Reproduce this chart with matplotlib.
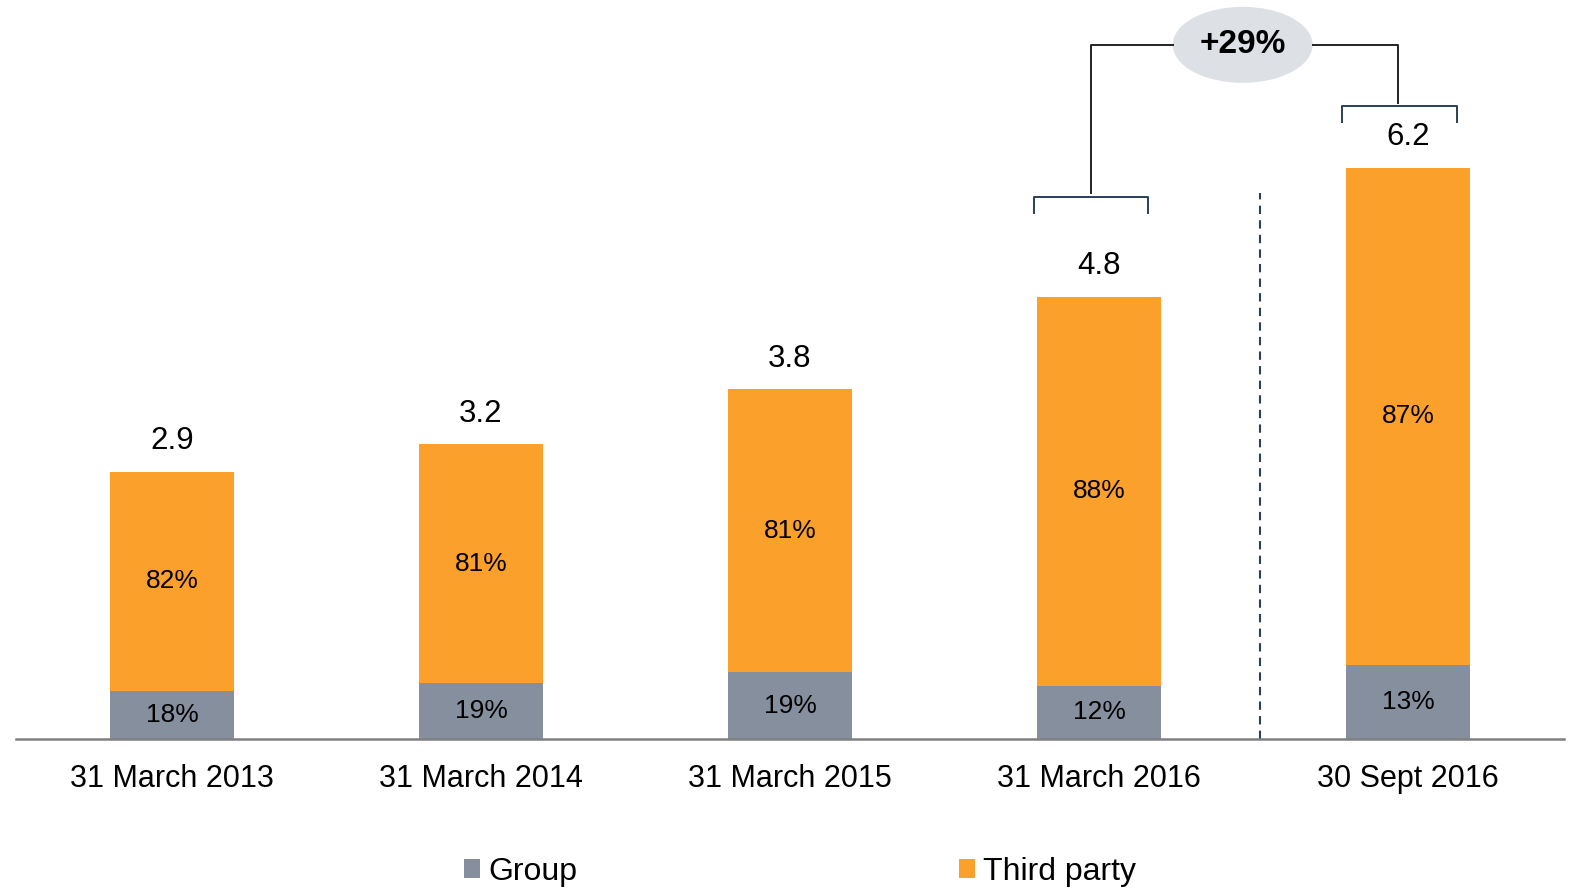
import numpy as np
import matplotlib
matplotlib.use('Agg')
import matplotlib.pyplot as plt
from matplotlib.patches import Ellipse, Patch

plt.rcParams['font.family'] = ['Liberation Sans', 'DejaVu Sans']

# values (totals, share of group / third party)
CATEGORIES = ['31 March 2013', '31 March 2014', '31 March 2015', '31 March 2016', '30 Sept 2016']
TOTALS = [2.9, 3.2, 3.8, 4.8, 6.2]
GROUP_PCT = [18, 19, 19, 12, 13]
THIRD_PCT = [82, 81, 81, 88, 87]
GROWTH_LABEL = '+29%'

GROUP_COLOR = '#868F9D'
THIRD_COLOR = '#FBA02B'
LINE_COLOR = '#2A3F5A'


def main():
    totals = np.array(TOTALS)
    group = totals * np.array(GROUP_PCT) / 100.0
    third = totals * np.array(THIRD_PCT) / 100.0
    x = np.arange(len(CATEGORIES))

    fig = plt.figure(figsize=(15.73, 8.88), dpi=100)
    ax = fig.add_axes([16 / 1573, 149 / 888, 1548 / 1573, 737 / 888])

    ax.bar(x, group, width=0.4, color=GROUP_COLOR, edgecolor='none')
    ax.bar(x, third, width=0.4, bottom=group, color=THIRD_COLOR, edgecolor='none')

    for i in range(len(x)):
        ax.text(x[i], group[i] / 2, '%d%%' % GROUP_PCT[i], ha='center', va='center', fontsize=19)
        ax.text(x[i], group[i] + third[i] / 2, '%d%%' % THIRD_PCT[i], ha='center', va='center', fontsize=19)
        ax.text(x[i], totals[i] + 0.33, '%.1f' % totals[i], ha='center', va='center', fontsize=22.5)

    ax.set_xlim(-0.505, 4.505)
    ax.set_ylim(0, 8.0)
    ax.set_xticks(x)
    ax.set_xticklabels(CATEGORIES, fontsize=22)
    ax.tick_params(axis='x', length=0, pad=18)
    ax.set_yticks([])
    for side in ['top', 'left', 'right']:
        ax.spines[side].set_visible(False)
    ax.spines['bottom'].set_color('#808080')
    ax.spines['bottom'].set_linewidth(1.8)

    # dashed separator before the half-year bar
    ax.plot([3.52, 3.52], [0, 5.93], color=LINE_COLOR, lw=1.5, ls=(0, (4, 3)))

    # brackets and growth bubble
    b_left = totals[3] + 1.08
    ax.plot([2.79, 2.79, 3.16, 3.16], [b_left - 0.17, b_left, b_left, b_left - 0.17],
            color=LINE_COLOR, lw=1.4, clip_on=False)
    b_right = totals[4] + 0.67
    ax.plot([3.786, 3.786, 4.159, 4.159], [b_right - 0.17, b_right, b_right, b_right - 0.17],
            color=LINE_COLOR, lw=1.4, clip_on=False)

    top_y = 7.535
    ex, ew = 3.465, 0.453
    ax.plot([2.974, 2.974, ex - ew / 2], [b_left + 0.05, top_y, top_y], color='#222222', lw=1.4,
            clip_on=False)
    ax.plot([ex + ew / 2, 3.968, 3.968], [top_y, top_y, b_right + 0.03], color='#222222', lw=1.4,
            clip_on=False)
    ax.add_patch(Ellipse((ex, top_y), ew, 0.825, facecolor='#DDE1E6', edgecolor='none', clip_on=False))
    ax.text(ex, top_y, GROWTH_LABEL, ha='center', va='center', fontsize=24, fontweight='bold')

    handles = [Patch(facecolor=GROUP_COLOR, edgecolor='none', label='Group'),
               Patch(facecolor=THIRD_COLOR, edgecolor='none', label='Third party')]
    fig.legend(handles=handles, loc='center', bbox_to_anchor=(800 / 1573, 1 - 872 / 888), ncol=2,
               frameon=False, fontsize=23, handlelength=0.52, handleheight=0.52,
               handletextpad=0.25, columnspacing=11.95, borderaxespad=0)

    fig.savefig('out.png', dpi=100)


if __name__ == '__main__':
    main()
